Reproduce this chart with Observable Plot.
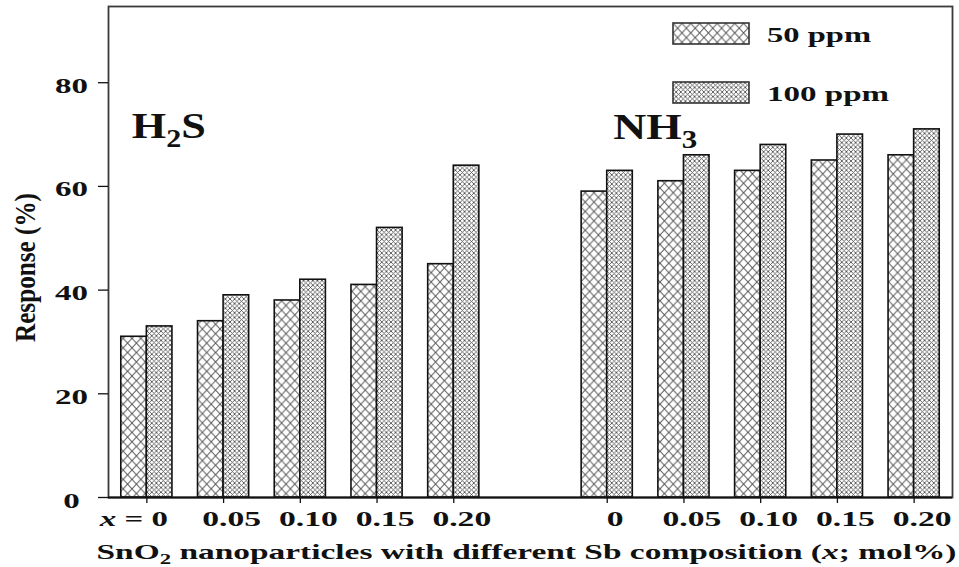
<!DOCTYPE html>
<html>
<head>
<meta charset="utf-8">
<script src="https://cdn.jsdelivr.net/npm/d3@7"></script>
<script src="https://cdn.jsdelivr.net/npm/@observablehq/plot@0.6"></script>
<style>
  html, body { margin: 0; padding: 0; background: #fff; }
  #chart { width: 959px; height: 567px; }
</style>
</head>
<body>
<div id="chart"></div>
<script>
// ---- data ----
const gases = ["H_2S", "NH_3"];
const compositions = ["0", "0.05", "0.10", "0.15", "0.20"];
const compositionLabels = ["*x* = 0", "0.05", "0.10", "0.15", "0.20", "0", "0.05", "0.10", "0.15", "0.20"];
const seriesNames = ["50 ppm", "100 ppm"];
const h2s50 = [31, 34, 38, 41, 45];
const h2s100 = [33, 39, 42, 52, 64];
const nh350 = [59, 61, 63, 65, 66];
const nh3100 = [63, 66, 68, 70, 71];
const yTicks = [0, 20, 40, 60, 80];
const xAxisTitle = "SnO_2 nanoparticles with different Sb composition (*x*; mol%)";
const yAxisTitle = "Response (%)";

// ---- build table ----
const valuesByGas = [[h2s50, h2s100], [nh350, nh3100]];
const rows = [];
const slots = [];
gases.forEach((g, gi) => {
  compositions.forEach((c, ci) => {
    const slot = gi * (compositions.length + 1) + ci;
    slots.push(slot);
    seriesNames.forEach((s, si) => {
      rows.push({gas: g, comp: c, slot, series: si, value: valuesByGas[gi][si][ci]});
    });
  });
});
const rows50 = rows.filter(d => d.series === 0);
const rows100 = rows.filter(d => d.series === 1);
const tickRows = slots.map((s, i) => ({slot: s, label: compositionLabels[i]}));
const gasRows = gases.map((g, gi) => ({label: g, start: gi * (compositions.length + 1)}));

const serif = "'Liberation Serif', 'Times New Roman', serif";
const tag = t => () => t;

const plot = Plot.plot({
  width: 959,
  height: 567,
  marginLeft: 108,
  marginRight: 7,
  marginTop: 6,
  marginBottom: 70,
  style: {fontFamily: serif, fontWeight: "bold", color: "#111", background: "#fff"},
  x: {type: "linear", domain: [-0.5, slots[slots.length - 1] + 0.5]},
  y: {domain: [0, 94.7]},
  marks: [
    Plot.rect(rows50, {x1: d => d.slot - 1/3, x2: d => d.slot, y1: 0, y2: "value",
      fill: "url(#p50)", stroke: "#111", strokeWidth: 1.6}),
    Plot.rect(rows100, {x1: d => d.slot, x2: d => d.slot + 1/3, y1: 0, y2: "value",
      fill: "url(#p100)", stroke: "#111", strokeWidth: 1.6}),
    Plot.frame({stroke: "#3a3a3a", strokeWidth: 1.8}),
    Plot.ruleY([0], {stroke: "#111", strokeWidth: 2}),
    Plot.axisY({ticks: yTicks, tickSize: 10, tickFormat: () => "", label: null, strokeWidth: 1.3}),
    Plot.text(yTicks, {y: d => d, text: d => String(d), frameAnchor: "left", dx: -37, dy: 3,
      textAnchor: "middle", lineAnchor: "middle", fontSize: 22, ariaLabel: tag("ytl")}),
    Plot.axisX({ticks: slots, tickSize: 6, tickFormat: () => "", label: null, strokeWidth: 1.3}),
    Plot.text(tickRows.filter(d => d.slot !== 0), {x: "slot", text: "label", frameAnchor: "bottom",
      dy: 28.5, dx: 8, lineAnchor: "bottom", fontSize: 21, ariaLabel: tag("xtl")}),
    Plot.text(tickRows.filter(d => d.slot === 0), {x: "slot", text: "label", frameAnchor: "bottom",
      dy: 28.5, dx: -13, lineAnchor: "bottom", fontSize: 21, ariaLabel: tag("xtl0")}),
    Plot.text([gasRows[0]], {x: "start", text: "label", frameAnchor: "top", dy: 131, dx: -15,
      textAnchor: "start", lineAnchor: "bottom", fontSize: 36, ariaLabel: tag("gas0")}),
    Plot.text([gasRows[1]], {x: "start", text: "label", frameAnchor: "top", dy: 132, dx: 6,
      textAnchor: "start", lineAnchor: "bottom", fontSize: 36, ariaLabel: tag("gas1")}),
    Plot.text([xAxisTitle], {text: d => d, frameAnchor: "bottom", dy: 61, dx: -4,
      lineAnchor: "bottom", fontSize: 22, ariaLabel: tag("xtitle")})
  ]
});

document.getElementById("chart").append(plot);
const svg = d3.select(plot);

// ---- y axis title (rotated) ----
svg.append("text")
  .attr("transform", "translate(35,267.5) rotate(-90)")
  .attr("text-anchor", "middle")
  .attr("font-size", 30)
  .attr("aria-label", "ytitle")
  .text(yAxisTitle);

// ---- patterns ----
const defs = svg.insert("defs", ":first-child");
function hatch(id, w, h, stroke, sw) {
  const p = defs.append("pattern").attr("id", id).attr("patternUnits", "userSpaceOnUse")
    .attr("width", w).attr("height", h);
  p.append("rect").attr("width", w).attr("height", h).attr("fill", "#fff");
  p.append("path")
    .attr("d", `M0,0L${w},${h}M${w},0L0,${h}M${-w/2},${h/2}L0,${h}M${w/2},${-h/2}L${w},0`)
    .attr("stroke", stroke).attr("stroke-width", sw).attr("fill", "none");
}
hatch("p50", 8.8, 9.4, "#555", 0.95);
hatch("p100", 4.6, 4.6, "#555", 0.9);

// ---- legend (inside the frame, top right) ----
const legend = svg.append("g").attr("aria-label", "legend");
const legendPat = ["p50", "p100"];
seriesNames.forEach((name, i) => {
  const y0 = [23, 82][i];
  legend.append("rect").attr("x", 673).attr("y", y0).attr("width", 76).attr("height", 21)
    .attr("fill", `url(#${legendPat[i]})`).attr("stroke", "#333").attr("stroke-width", 1.6);
  legend.append("text").attr("x", 767).attr("y", y0 + 19).attr("text-anchor", "start")
    .attr("font-size", 22).attr("aria-label", "lg" + i).text(name);
});

// ---- rich text & stretching ----
const NS = "http://www.w3.org/2000/svg";
function rich(el) {
  const s = el.textContent;
  if (!/[_*]/.test(s)) return;
  const fs = parseFloat(getComputedStyle(el).fontSize);
  while (el.firstChild) el.removeChild(el.firstChild);
  const parts = s.split(/(_\d|\*[^*]+\*)/).filter(p => p);
  let shifted = false;
  for (const p of parts) {
    const ts = document.createElementNS(NS, "tspan");
    if (p[0] === "_") {
      ts.textContent = p.slice(1);
      ts.setAttribute("font-size", fs * 0.68);
      ts.setAttribute("dy", fs * 0.26);
      shifted = true;
    } else {
      if (p[0] === "*") { ts.textContent = p.slice(1, -1); ts.setAttribute("font-style", "italic"); }
      else ts.textContent = p;
      if (shifted) { ts.setAttribute("dy", -fs * 0.26); shifted = false; }
    }
    el.appendChild(ts);
  }
}
function stretch(el, opt) {
  const len = el.getComputedTextLength();
  const L = opt.target != null ? opt.target : len * opt.factor;
  el.setAttribute("textLength", L);
  el.setAttribute("lengthAdjust", "spacingAndGlyphs");
}
svg.selectAll("text").each(function() { rich(this); });
const targets = {ytl: {factor: 1.5}, xtl: {factor: 1.6}, xtl0: {target: 68}, gas0: {target: 74},
  gas1: {target: 84}, xtitle: {target: 860}, ytitle: {target: 149}, lg0: {target: 104}, lg1: {target: 122}};
svg.selectAll("text").each(function() {
  const k = this.getAttribute("aria-label");
  if (k && targets[k]) stretch(this, targets[k]);
});
</script>
</body>
</html>
